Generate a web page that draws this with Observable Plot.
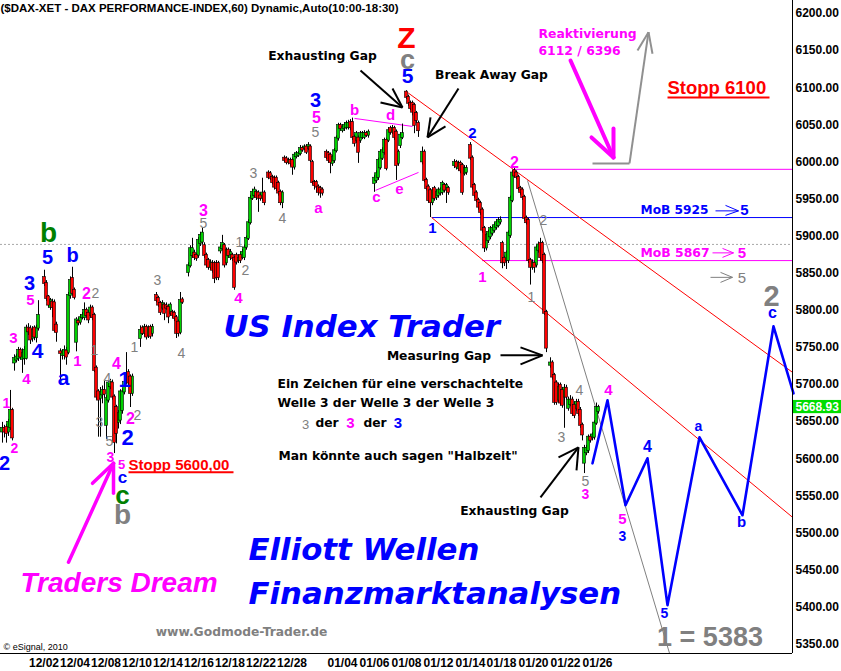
<!DOCTYPE html>
<html><head><meta charset="utf-8">
<script src="https://cdn.jsdelivr.net/npm/d3@7"></script>
<script src="https://cdn.jsdelivr.net/npm/@observablehq/plot@0.6"></script>
<style>body{margin:0;background:#fff}</style>
</head><body><div id="chart"></div>
<script>
// ---------- DATA ----------
// hourly bars grouped in sessions; bar slot = session start + position
const sessionStarts = [1,7,22,30,38,70,78,94,110,126,134,142,163,187,203,211,227,235,251,275,284,292];
const sessionSizes  = [6,13,7,8,29,7,14,16,16,7,8,20,22,15,7,14,7,16,23,9,8,8];
// [open, high, low, close]
const ohlc = [
[5636,5649,5621,5641],[5641,5645,5628,5636],[5642,5646,5621,5634],[5636,5653,5630,5649],[5642,5692,5638,5665],[5665,5668,5624,5628],
[5729,5740,5718,5735],[5733,5741,5729,5737],[5735,5750,5731,5746],[5746,5749,5733,5737],[5734,5748,5715,5742],[5735,5751,5726,5746],[5735,5780,5733,5776],[5776,5782,5766,5771],[5775,5779,5754,5760],[5762,5778,5757,5773],[5776,5779,5759,5764],[5763,5780,5756,5776],[5776,5813,5772,5793],
[5844,5854,5832,5836],[5836,5840,5812,5816],[5818,5820,5803,5807],[5804,5816,5800,5813],[5811,5815,5790,5804],[5810,5814,5770,5773],[5780,5784,5757,5770],
[5744,5748,5699,5742],[5739,5747,5733,5744],[5739,5752,5733,5746],[5745,5750,5726,5737],[5743,5824,5740,5820],[5820,5845,5815,5840],[5843,5858,5819,5823],[5827,5830,5814,5817],
[5757,5790,5744,5787],[5785,5790,5779,5783],[5784,5794,5780,5790],[5790,5797,5787,5793],[5790,5810,5786,5800],[5800,5803,5789,5793],[5796,5800,5782,5787],[5793,5807,5790,5803],[5803,5806,5786,5790],[5793,5796,5716,5719],
[5722,5725,5679,5683],[5690,5693,5629,5679],[5681,5696,5629,5689],[5686,5698,5674,5692],[5692,5705,5682,5687],[5645,5685,5626,5681],[5679,5705,5675,5702],[5697,5707,5693,5703],[5702,5706,5679,5683],[5683,5686,5607,5622],
[5669,5672,5620,5634],[5649,5665,5640,5661],[5652,5693,5646,5690],[5665,5694,5660,5690],[5690,5707,5686,5703],[5703,5743,5700,5715],[5716,5720,5698,5702],[5710,5713,5669,5688],[5688,5714,5684,5710],
[5762,5779,5750,5773],[5776,5779,5766,5769],[5769,5781,5764,5777],[5777,5780,5760,5764],[5766,5779,5762,5776],[5777,5780,5761,5765],[5769,5781,5764,5777],
[5820,5824,5810,5813],[5816,5819,5804,5807],[5809,5812,5793,5797],[5803,5813,5800,5809],[5807,5810,5786,5796],[5806,5810,5800,5803],[5804,5807,5782,5791],[5796,5810,5792,5807],[5797,5800,5789,5793],[5796,5799,5785,5789],[5790,5793,5762,5769],[5784,5787,5764,5769],[5770,5824,5767,5813],[5814,5817,5808,5811],
[5851,5864,5845,5860],[5860,5887,5857,5883],[5874,5897,5870,5883],[5877,5881,5867,5871],[5874,5877,5866,5870],[5874,5898,5870,5894],[5890,5905,5886,5901],[5892,5911,5888,5904],[5887,5891,5870,5874],[5874,5877,5857,5861],[5867,5870,5854,5858],[5858,5868,5854,5864],[5863,5867,5850,5854],[5863,5866,5836,5843],[5863,5867,5840,5844],[5863,5866,5840,5844],
[5880,5888,5876,5884],[5883,5901,5880,5890],[5887,5890,5857,5861],[5864,5884,5860,5881],[5881,5884,5870,5874],[5871,5882,5867,5878],[5874,5877,5866,5870],[5870,5873,5827,5831],[5874,5877,5861,5865],[5867,5874,5863,5870],[5874,5878,5863,5867],[5871,5882,5868,5878],[5871,5888,5867,5884],[5885,5900,5881,5897],[5897,5922,5894,5918],[5918,5955,5915,5951],
[5951,5963,5948,5959],[5955,5966,5951,5962],[5959,5962,5948,5952],[5958,5961,5932,5951],[5954,5958,5947,5951],[5951,5978,5947,5958],[5958,5961,5941,5945],
[5985,5988,5976,5979],[5984,5987,5975,5978],[5979,5982,5969,5972],[5978,5981,5962,5966],[5978,5981,5960,5964],[5971,5974,5954,5958],[5959,5962,5941,5945],[5945,5961,5937,5958],
[6005,6008,5999,6002],[6004,6007,5996,5999],[5999,6005,5996,6002],[6002,6005,5994,5998],[6002,6005,5982,5993],[5993,6012,5989,6009],[6007,6014,6004,6011],[6009,6014,6006,6011],[6011,6022,6008,6018],[6018,6021,6013,6016],
[6018,6023,6015,6020],[6020,6023,6010,6013],[6018,6026,6015,6022],[6020,6023,5999,6002],[5999,6002,5969,5972],[5972,5975,5962,5968],[5972,5975,5958,5966],[5966,5969,5954,5959],[5964,5967,5951,5958],[5962,5965,5954,5958],
[6013,6016,6003,6006],[6011,6014,5998,6002],[6009,6012,5984,5999],[5998,6009,5994,6006],[6002,6018,5998,6015],[6015,6035,6012,6032],[6032,6052,6028,6049],[6049,6052,6042,6045],[6042,6050,6039,6046],[6045,6053,6041,6049],[6046,6055,6043,6052],
[6046,6056,6043,6052],[6053,6057,6042,6046],[6053,6059,6029,6033],[6033,6036,6020,6025],[6029,6041,6025,6038],[6032,6035,5998,6013],[6029,6041,6025,6038],[6033,6041,6030,6038],[6033,6042,6030,6038],[6038,6041,6033,6036],[6036,6043,6032,6040],
[5971,5982,5959,5978],[5975,5988,5971,5984],[5979,6005,5975,6002],[5992,6016,5989,6013],[6005,6019,6002,6015],[6013,6032,6009,6029],[6029,6032,5988,5991],[6029,6046,6026,6042],[6045,6048,6036,6040],[6040,6049,6037,6045],[6045,6048,6029,6033],[6040,6043,5975,5995],[5998,6016,5994,6013],[6022,6039,6018,6036],[6033,6051,6030,6038],
[6094,6096,6084,6087],[6087,6090,6075,6079],[6079,6082,6069,6072],[6079,6082,6062,6067],[6076,6079,6038,6049],[6065,6068,6052,6056],[6052,6055,6033,6042],
[6000,6020,5996,6013],[6013,6016,5972,5975],[5975,5978,5961,5964],[5966,5969,5945,5948],[5961,5964,5925,5945],[5945,5964,5941,5961],[5964,5967,5947,5951],[5952,5962,5948,5959],[5955,5965,5951,5962],[5958,5965,5954,5962],[5959,5974,5955,5971],[5968,5971,5958,5962],[5962,5971,5944,5968],[5964,5967,5955,5959],
[5995,6003,5991,5999],[5999,6002,5989,5993],[5991,6001,5988,5998],[5998,6001,5984,5988],[5995,5998,5955,5959],[5984,5995,5981,5991],[5986,5995,5982,5991],
[6022,6026,6002,6005],[6005,6008,5962,5966],[5968,5971,5951,5955],[5958,5961,5945,5948],[5948,5951,5935,5939],[5944,5947,5928,5932],[5935,5938,5904,5908],[5910,5913,5878,5884],[5884,5904,5880,5901],[5894,5908,5890,5905],[5899,5913,5895,5910],[5904,5914,5900,5910],[5908,5918,5904,5914],[5912,5922,5908,5918],[5914,5925,5911,5921],[5919,5926,5915,5921],
[5890,5893,5856,5864],[5870,5873,5859,5864],[5867,5880,5855,5877],[5867,5907,5863,5904],[5901,5954,5897,5951],[5948,5988,5945,5985],[5988,5991,5978,5981],[5985,5988,5976,5979],[5979,5982,5961,5964],[5964,5967,5955,5959],[5962,5965,5948,5952],[5952,5955,5920,5924],
[5924,5927,5915,5918],[5921,5924,5863,5867],[5867,5870,5834,5858],[5858,5868,5854,5864],[5863,5866,5850,5858],[5861,5887,5857,5884],[5881,5892,5877,5888],[5890,5897,5867,5871],[5890,5893,5863,5867],[5874,5877,5793,5796],[5797,5800,5743,5749],
[5726,5736,5722,5729],[5729,5732,5706,5710],[5712,5715,5672,5676],[5702,5705,5672,5676],[5679,5702,5675,5696],[5699,5702,5671,5675],[5692,5696,5668,5672],[5683,5700,5641,5695],[5695,5699,5679,5683],
[5668,5683,5664,5679],[5673,5685,5670,5679],[5679,5683,5657,5661],[5672,5676,5654,5658],[5668,5680,5664,5676],[5676,5680,5657,5661],[5665,5669,5641,5645],[5645,5648,5624,5632],
[5594,5618,5580,5614],[5608,5618,5604,5614],[5611,5632,5607,5629],[5629,5632,5621,5625],[5628,5635,5624,5632],[5629,5651,5625,5648],[5648,5675,5645,5669],[5664,5672,5660,5668.93]
];
const lastPrice = 5668.93;
const yTicks = d3.range(5350, 6201, 50);
const dateLabels = ["12/02","12/04","12/08","12/10","12/14","12/16","12/18","12/22","12/28","01/04","01/06","01/08","01/12","01/14","01/18","01/20","01/22","01/26"];
const dateSlots  = [21.75,37.25,52.75,68.25,83.75,99.25,114.75,130.25,145.75,171,187,203,219,235,250.5,266.5,282.5,298.5];

// levels and drawn lines (slot, price)
const levelGrey = 5888.8;
const levels = [[5990,257.5,"#ff00ff"],[5925,216,"#0000ff"],[5867,241,"#ff00ff"]];
const trendRed = [[203.5,6093.6,396,5716.4],[215.5,5925.2,396,5521.1]];
const fanGrey = [[263.5,5975.0,334.5,5337.9]];
const trianglePink = [[177,6058.6,206,6047.8],[187.5,5961.6,209,5985.8]];
const projection = [[296,5593.8],[303.5,5678.7],[312.5,5537.3],[323.5,5600.6],[333.5,5402.6],[349.5,5628.9],[371,5523.8],[386.5,5778.4],[396.5,5688.1]];
const arrowsBlack = [
 [180,6123.2,201,6073.4],[190,6080.1,201,6073.4],[196,6099.0,201,6073.4],
 [229,6099.0,213.5,6033.0],[222.5,6047.8,213.5,6033.0],[215,6059.9,213.5,6033.0],
 [250,5739.3,271,5739.3],[260,5750.1,271,5739.3],[260,5727.2,271,5739.3],
 [270,5548.0,289,5615.4],[279,5601.9,289,5615.4],[288,5584.4,289,5615.4]
];
const arrowsPinkBig = [[285,6136.7,306.5,6006.0],[295.5,6033.0,306.5,6006.0],[306.5,6045.1,306.5,6006.0]];
const arrowsPinkDream = [[34,5460.5,56.5,5593.8],[46,5566.9,56.5,5593.8],[56.5,5553.4,56.5,5593.8]];
const arrowsGrey = [[296,5997.9,314.5,5997.9],[314.5,5997.9,324,6174.8],[318.5,6150.2,324,6174.8],[326,6145.7,324,6174.8]];
const smallArrows = [
 [357.5,5934.0,369,5934.0,"#0000ff"],[362.5,5941.4,369,5934.0,"#0000ff"],[362.5,5927.9,369,5934.0,"#0000ff"],
 [356,5877.4,366.5,5877.4,"#ff00ff"],[361,5883.4,366.5,5877.4,"#ff00ff"],[361,5871.3,366.5,5877.4,"#ff00ff"],
 [355,5844.4,366,5844.4,"#808080"],[360,5851.1,366,5844.4,"#808080"],[360,5837.6,366,5844.4,"#808080"]
];
const underlines = [[333.5,6086.8,384.5,6086.8],[64,5581.7,116.5,5581.7]];

// wave labels [text, slot, price, size]
const pinkWave = [["5",158,6059.9,16],["b",177,6069.3,15],["d",195,6062.6,15],["a",159,5937.3,15],["c",188,5952,15],["e",199.5,5962.9,15],
 ["3",101.5,5934.6,16],["4",119,5816.1,15],["5",15,5813.4,15],["2",43,5821.5,16],["3",6.5,5762.2,15],["4",13,5707.0,15],["1",38.5,5731.2,15],
 ["4",58,5727.2,16],["2",65,5653.1,16],["1",3,5674.7,14],["2",7,5614.0,14],["3",55,5601.9,14],["5",60.5,5591.1,13],["2",257,5999.3,16],
 ["1",241,5844.4,15],["4",304,5692.2,15],["5",311,5518.4,15],["3",292.5,5552.1,14],["5",370.75,5876.7,15],["3",175,5647.7,15]];
const blueWave = [["5",203.5,6115.1,21],["3",157.5,6082.8,20],["5",23.5,5871.3,20],["b",36,5874.0,20],["3",14.5,5836.3,20],["4",18.5,5744.7,21],
 ["a",31.5,5708.3,21],["1",62,5705.6,22],["2",63.5,5627.5,22],["2",2,5593.8,20],["c",61,5575.0,17],["2",236,6038.3,15],["1",216,5910.4,15],
 ["c",386,5795.9,16],["a",349,5643.7,14],["4",323.5,5615.4,16],["3",311,5495.5,14],["5",332,5391.8,14],["b",370.5,5514.4,15],["5",372,5934.6,15],["3",198.75,5647.7,15]];
const greyWave = [["5",157.5,6039.7,14],["3",126.5,5984.5,14],["4",141,5923.9,14],["5",101.5,5917.1,14],["1",119.5,5891.5,14],["2",122.5,5853.8,14],
 ["3",78.5,5840.3,14],["4",90.5,5742.0,14],["2",47.5,5822.8,14],["1",47,5746.0,14],["4",53.5,5708.3,14],["3",49.5,5649.1,14],["2",68.5,5658.5,14],
 ["1",67,5750.1,14],["5",54.5,5623.5,14],["2",271.5,5921.2,14],["1",265.5,5817.4,14],["4",289.5,5692.2,14],["3",280.5,5628.9,14],["5",292.5,5569.6,14],
 ["5",370.75,5843.0,15],["3",152.5,5645.5,13]];
const greyBig = [["c",203.5,6136.7,27],["b",61,5523.8,28],["2",385.5,5818.8,29],["1 = 5383",354.75,5359.5,27]];
const greenBig = [["b",24,5903.6,28],["c",61,5550.7,26]];
const redBig = [["Z",203,6166.3,30]];

// notes
const notesCenter = [["Exhausting Gap",161,6142.1],["Break Away Gap",245.5,6116.5],["Measuring Gap",219.25,5738.0],["Exhausting Gap",257,5529.2],["der",163.25,5647.7],["der",187.25,5647.7]];
const notesStart = [["Ein Zeichen für eine verschachtelte",138.5,5700.3],["Welle 3 der Welle 3 der Welle 3",138.5,5674.7],["Man könnte auch sagen \"Halbzeit\"",139,5603.3]];
const pinkNotes = [["Reaktivierung",269,6171.7],["6112 / 6396",269,6148.8],["MoB 5867",320,5876.7]];
const blueNotes = [["MoB 5925",320,5934.6]];
const stopps = [["Stopp 6100",333.5,6099.0,18.5],["Stopp 5600,00",64,5591.1,15]];
const bigTitles = [["US Index Trader",111.5,5777.7],["Elliott Wellen",124,5476.6],["Finanzmarktanalysen",124,5417.4]];
const title = "($DAX-XET - DAX PERFORMANCE-INDEX,60) Dynamic,Auto(10:00-18:30)";

// ---------- BUILD ----------
const bars = [];
{ let k = 0;
  sessionStarts.forEach((s, i) => { for (let j = 0; j < sessionSizes[i]; j++) { const [o,h,l,c] = ohlc[k++]; bars.push({t: s + j, o, h, l, c}); } });
}
const up = bars.filter(d => d.c >= d.o), down = bars.filter(d => d.c < d.o);
const ARIAL = "Liberation Sans, Arial, sans-serif";
const DEJA = "DejaVu Sans, Verdana, sans-serif";
const lbl = (rows, o) => Plot.text(rows, {x: d => d[1], y: d => d[2], text: d => d[0], fontSize: d => d[3], ...o});
const seg = (rows, o) => Plot.link(rows, {x1: d => d[0], y1: d => d[1], x2: d => d[2], y2: d => d[3], ...o});

const chart = Plot.plot({
  width: 841, height: 671,
  marginLeft: 0, marginRight: 49, marginTop: 0, marginBottom: 18,
  x: {domain: [0, 396], axis: null},
  y: {domain: [5337.5, 6217.5], axis: null},
  style: {fontFamily: ARIAL, background: "#fff", overflow: "visible"},
  marks: [
    Plot.ruleY([levelGrey], {stroke: "#a8a8a8", strokeDasharray: "2,2"}),
    Plot.ruleY(levels, {y: d => d[0], x1: d => d[1], x2: 396, stroke: d => d[2]}),
    seg(trendRed, {stroke: "#ff0000", strokeWidth: 1}),
    seg(fanGrey, {stroke: "#808080", strokeWidth: 1}),
    seg(trianglePink, {stroke: "#ff00ff", strokeWidth: 1}),
    Plot.ruleX(bars, {x: "t", y1: "l", y2: "h", stroke: "#000", strokeWidth: 1}),
    Plot.rect(up, {x1: d => d.t - 0.75, x2: d => d.t + 0.75, y1: "o", y2: "c", fill: "#00d000", stroke: "#000", strokeWidth: 0.6, insetTop: -0.5, insetBottom: -0.5}),
    Plot.rect(down, {x1: d => d.t - 0.75, x2: d => d.t + 0.75, y1: "o", y2: "c", fill: "#ff0000", stroke: "#000", strokeWidth: 0.6, insetTop: -0.5, insetBottom: -0.5}),
    Plot.line(projection, {x: d => d[0], y: d => d[1], stroke: "#0000ff", strokeWidth: 2.6}),
    seg(arrowsBlack, {stroke: "#000", strokeWidth: 2}),
    seg(arrowsPinkBig, {stroke: "#ff00ff", strokeWidth: 4, strokeLinecap: "round"}),
    seg(arrowsPinkDream, {stroke: "#ff00ff", strokeWidth: 3.5, strokeLinecap: "round"}),
    seg(arrowsGrey, {stroke: "#909090", strokeWidth: 2}),
    seg(smallArrows, {stroke: d => d[4], strokeWidth: 1}),
    seg(underlines, {stroke: "#ff0000", strokeWidth: 2}),
    // frame
    Plot.ruleX([396], {stroke: "#000"}),
    Plot.ruleY([5337.5], {x1: 0, x2: 396, stroke: "#000"}),
    // axes labels
    Plot.text(yTicks, {x: 396, y: d => d, text: d => d.toFixed(2), dx: 3, textAnchor: "start", fontWeight: "bold", fontSize: 12, fill: "#000"}),
    Plot.rect([lastPrice], {x1: 396.5, x2: 421, y1: d => d - 8.2, y2: d => d + 9.6, fill: "#00dd00"}),
    Plot.text([lastPrice], {x: 396, y: d => d + 0.8, text: d => d.toFixed(2), dx: 3, textAnchor: "start", fontWeight: "bold", fontSize: 12, fill: "#fff"}),
    Plot.text(dateSlots, {x: d => d, y: 5337.5, text: (d, i) => dateLabels[i], dy: 10, fontWeight: "bold", fontSize: 12, fill: "#000"}),
    // title
    Plot.text([title], {x: 0, y: 6207.5, text: d => d, textAnchor: "start", fontWeight: "bold", fontSize: 11.5, fill: "#000"}),
    // wave labels
    lbl(pinkWave, {fill: "#ff00ff", fontWeight: "bold"}),
    lbl(blueWave, {fill: "#0000ff", fontWeight: "bold"}),
    lbl(greyWave, {fill: "#808080"}),
    lbl(greyBig, {fill: "#808080", fontWeight: "bold"}),
    lbl(greenBig, {fill: "#008000", fontWeight: "bold"}),
    lbl(redBig, {fill: "#ff0000", fontWeight: "bold"}),
    // notes
    Plot.text(notesCenter, {x: d => d[1], y: d => d[2], text: d => d[0], fontFamily: DEJA, fontWeight: "bold", fontSize: 12.3, fill: "#000"}),
    Plot.text(notesStart, {x: d => d[1], y: d => d[2], text: d => d[0], fontFamily: DEJA, fontWeight: "bold", fontSize: 12.3, fill: "#000", textAnchor: "start"}),
    Plot.text(pinkNotes, {x: d => d[1], y: d => d[2], text: d => d[0], fontFamily: DEJA, fontWeight: "bold", fontSize: 12.4, fill: "#ff00ff", textAnchor: "start"}),
    Plot.text(blueNotes, {x: d => d[1], y: d => d[2], text: d => d[0], fontFamily: DEJA, fontWeight: "bold", fontSize: 12.2, fill: "#0000ff", textAnchor: "start"}),
    Plot.text(["www.Godmode-Trader.de"], {x: 120.5, y: 5366.2, text: d => d, fontFamily: DEJA, fontWeight: "bold", fontSize: 12.3, fill: "#808080"}),
    Plot.text(["© eSignal, 2010"], {x: 1.5, y: 5346.0, text: d => d, fontSize: 9, fill: "#000", textAnchor: "start"}),
    lbl(stopps, {fill: "#ff0000", fontWeight: "bold", textAnchor: "start"}),
    Plot.text(bigTitles, {x: d => d[1], y: d => d[2], text: d => d[0], fontFamily: DEJA, fontWeight: "bold", fontStyle: "italic", fontSize: 30.8, fill: "#0000ff", textAnchor: "start"}),
    Plot.text(["Traders Dream"], {x: 10, y: 5432.9, text: d => d, fontWeight: "bold", fontStyle: "italic", fontSize: 28, fill: "#ff00ff", textAnchor: "start"})
  ]
});
document.getElementById("chart").appendChild(chart);
</script>
</body></html>
